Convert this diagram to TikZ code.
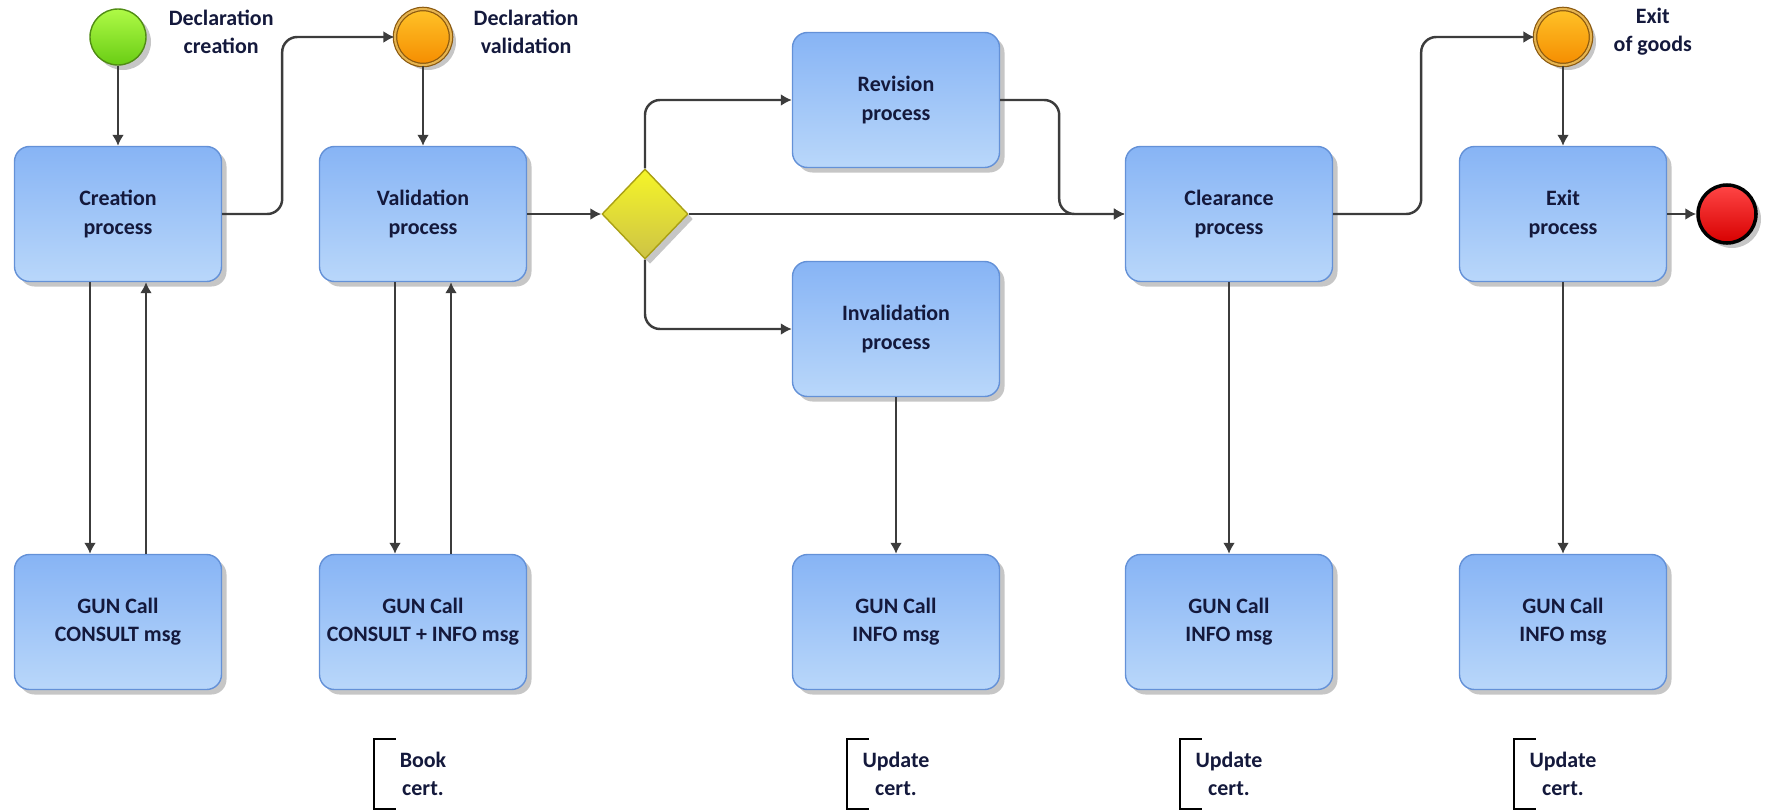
\documentclass[tikz,border=0pt]{standalone}
\usepackage{fontspec}
\setmainfont{Carlito}
\usetikzlibrary{shapes,arrows.meta}
\usetikzlibrary{calc,positioning,shadows}

\definecolor{boxtop}{RGB}{135,180,245}
\definecolor{boxbottom}{RGB}{185,215,250}
\definecolor{boxline}{RGB}{100,145,215}
\definecolor{textnavy}{RGB}{20,25,60}
\definecolor{flowgrey}{RGB}{60,60,60}

\begin{document}
\begin{tikzpicture}[x=0.2mm,y=-0.2mm,line width=1.4pt,
		font=\fontsize{12.5}{16}\selectfont\bfseries,text=textnavy,
		softshadow/.style={drop shadow={shadow xshift=1mm,shadow yshift=-1mm,opacity=0.45}},
		process/.style={draw=boxline,line width=0.8pt,rounded corners=3mm,top color=boxtop,bottom color=boxbottom,
			minimum width=41.4mm,minimum height=27mm,align=center,inner sep=1pt,softshadow},
		startev/.style={circle,minimum size=11.2mm,line width=0.8pt,draw={rgb,255:red,80;green,140;blue,20},
			top color={rgb,255:red,175;green,250;blue,70},bottom color={rgb,255:red,105;green,205;blue,20},softshadow},
		midev/.style={circle,minimum size=11.2mm,line width=0.7pt,draw={rgb,255:red,140;green,90;blue,15},
			double={rgb,255:red,230;green,180;blue,80},double distance=1.2pt,
			top color={rgb,255:red,255;green,195;blue,40},bottom color={rgb,255:red,245;green,140;blue,0},softshadow},
		endev/.style={circle,minimum size=11.6mm,line width=2pt,draw=black,
			top color={rgb,255:red,255;green,70;blue,70},bottom color={rgb,255:red,215;green,0;blue,0},softshadow},
		gateway/.style={shape=diamond,minimum width=17.2mm,minimum height=18mm,inner sep=0pt,line width=0.8pt,
			draw={rgb,255:red,170;green,160;blue,20},top color={rgb,255:red,245;green,245;blue,40},
			bottom color={rgb,255:red,205;green,195;blue,70},softshadow},
		evlabel/.style={align=center,right=3mm of #1,yshift=1mm},
		note/.style={align=center,minimum width=19.2mm,minimum height=13.6mm,inner sep=0pt},
		flow/.style={draw=flowgrey,-{Latex[length=2.2mm,width=2.4mm]}}]
			\useasboundingbox (0,0) rectangle (1767,809);
			% events
			\node [startev] (StartEvent) at (118,37) {};
			\node [midev] (ValEvent) at (423,37) {};
			\node [midev] (ExitEvent) at (1563,37) {};
			\node [endev] (EndEvent) at (1727,214) {};
			\node [evlabel=StartEvent] {Declaration\\creation};
			\node [evlabel=ValEvent] {Declaration\\validation};
			\node [evlabel=ExitEvent] {Exit\\of goods};
			% processes
			\node [process] (Creation) at (118,214) {Creation\\process};
			\node [process] (Validation) at (423,214) {Validation\\process};
			\node [gateway] (Decision) at (645,214) {};
			\node [process] (Revision) at (896,100) {Revision\\process};
			\node [process] (Invalidation) at (896,329) {Invalidation\\process};
			\node [process] (Clearance) at (1229,214) {Clearance\\process};
			\node [process] (ExitProc) at (1563,214) {Exit\\process};
			% GUN calls
			\node [process] (GunA) at (118,622) {GUN Call\\CONSULT msg};
			\node [process] (GunB) at (423,622) {GUN Call\\CONSULT + INFO msg};
			\node [process] (GunC) at (896,622) {GUN Call\\INFO msg};
			\node [process] (GunD) at (1229,622) {GUN Call\\INFO msg};
			\node [process] (GunE) at (1563,622) {GUN Call\\INFO msg};
			% notes
			\node [note,below=9.7mm of GunB] (NoteB) {Book\\cert.};
			\node [note,below=9.7mm of GunC] (NoteC) {Update\\cert.};
			\node [note,below=9.7mm of GunD] (NoteD) {Update\\cert.};
			\node [note,below=9.7mm of GunE] (NoteE) {Update\\cert.};
			\foreach \n in {NoteB,NoteC,NoteD,NoteE}
				\draw[line width=1.2pt] ([xshift=4.4mm]\n.north west) -- (\n.north west) -- (\n.south west) -- ([xshift=4.4mm]\n.south west);
			% sequence flow
			\draw[flow] (StartEvent) -- (Creation);
			\draw[flow,rounded corners=3mm] (Creation.east) -- ++(60,0) |- (ValEvent.west);
			\draw[flow] (ValEvent) -- (Validation);
			\draw[flow] (Validation.east) -- (Decision.west);
			\draw[flow,rounded corners=3mm] (Decision.north) |- (Revision.west);
			\draw[flow,rounded corners=3mm] (Decision.south) |- (Invalidation.west);
			\draw[flow] (Decision.east) -- (Clearance.west);
			\draw[flow,rounded corners=3mm] (Revision.east) -- ++(59,0) |- (Clearance.west);
			\draw[flow,rounded corners=3mm] (Clearance.east) -- ++(88,0) |- (ExitEvent.west);
			\draw[flow] (ExitEvent) -- (ExitProc);
			\draw[flow] (ExitProc.east) -- (EndEvent.west);
			% GUN calls
			\draw[flow] ([xshift=-5.6mm]Creation.south) -- ([xshift=-5.6mm]GunA.north);
			\draw[flow] ([xshift=5.6mm]GunA.north) -- ([xshift=5.6mm]Creation.south);
			\draw[flow] ([xshift=-5.6mm]Validation.south) -- ([xshift=-5.6mm]GunB.north);
			\draw[flow] ([xshift=5.6mm]GunB.north) -- ([xshift=5.6mm]Validation.south);
			\draw[flow] (Invalidation) -- (GunC);
			\draw[flow] (Clearance) -- (GunD);
			\draw[flow] (ExitProc) -- (GunE);
		\end{tikzpicture}
\end{document}
